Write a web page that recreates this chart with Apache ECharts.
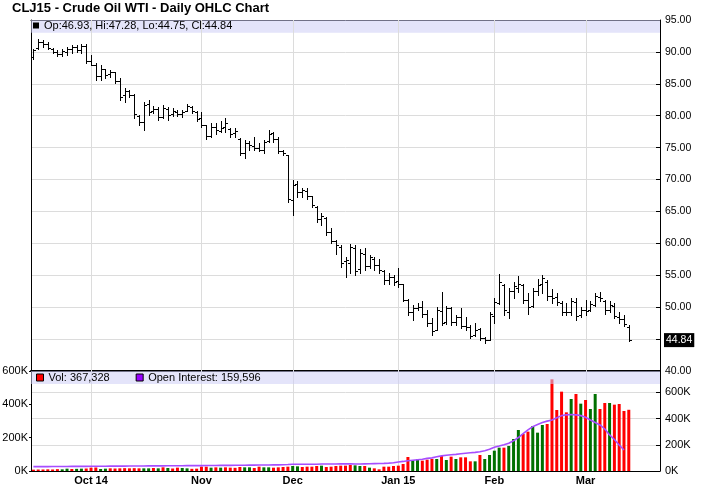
<!DOCTYPE html>
<html>
<head>
<meta charset="utf-8">
<script src="https://cdn.jsdelivr.net/npm/echarts@6.0.0/dist/echarts.min.js"></script>
<style>html,body{margin:0;padding:0;background:#fff}#chart{width:726px;height:499px}</style>
</head>
<body>
<div id="chart"></div>
<script>
// ---- categories: trading days per month ----
const tradingDays = [
  ['2014-09', [15,16,17,18,19,22,23,24,25,26,29,30]],
  ['2014-10', [1,2,3,6,7,8,9,10,13,14,15,16,17,20,21,22,23,24,27,28,29,30,31]],
  ['2014-11', [3,4,5,6,7,10,11,12,13,14,17,18,19,20,21,24,25,26,28]],
  ['2014-12', [1,2,3,4,5,8,9,10,11,12,15,16,17,18,19,22,23,24,26,29,30,31]],
  ['2015-01', [2,5,6,7,8,9,12,13,14,15,16,20,21,22,23,26,27,28,29,30]],
  ['2015-02', [2,3,4,5,6,9,10,11,12,13,17,18,19,20,23,24,25,26,27]],
  ['2015-03', [2,3,4,5,6,9,10,11,12,13]]
];
const monthLabels = {'2014-10':'Oct 14','2014-11':'Nov','2014-12':'Dec','2015-01':'Jan 15','2015-02':'Feb','2015-03':'Mar'};

// ---- OHLC ----
const openP = [89.2,90.6,91.6,91.2,90.5,90.0,89.6,90.0,90.4,90.8,90.3,91.0,
 88.6,88.0,86.2,87.3,86.5,86.8,85.5,83.2,83.8,83.3,80.0,79.0,81.8,80.8,81.0,79.8,81.1,80.2,80.6,80.3,80.8,81.4,80.6,
 79.6,78.5,76.9,78.2,77.6,78.2,77.9,77.3,76.4,74.2,75.7,75.3,75.0,74.6,76.0,77.3,76.4,74.4,73.8,
 66.8,69.3,68.0,68.2,67.4,65.7,63.8,64.0,61.8,60.3,59.5,57.2,57.0,59.2,56.0,58.4,56.5,57.6,56.6,55.6,54.3,54.7,
 54.1,53.6,51.2,49.3,49.9,50.0,49.0,47.5,46.5,49.4,47.6,49.8,47.7,48.4,47.1,46.9,45.6,46.6,45.2,44.9,
 48.6,50.7,53.5,49.3,52.5,53.0,53.5,51.2,50.2,52.6,53.7,54.0,51.8,51.6,50.7,49.3,49.2,50.8,48.7,
 49.5,49.5,50.4,51.6,51.0,49.5,50.2,48.5,48.2,46.93];
const highP = [90.5,92.0,91.9,91.5,90.6,90.3,90.4,90.8,91.1,91.1,91.2,91.3,
 89.5,88.2,87.9,87.4,87.2,86.9,85.9,84.3,84.0,83.4,80.1,82.2,82.5,81.5,81.4,81.7,81.4,81.2,80.9,80.9,81.9,81.5,80.7,
 80.6,78.6,78.8,78.8,79.2,79.6,78.0,78.0,76.5,76.2,76.0,76.7,75.7,76.2,77.8,77.4,76.7,74.6,73.9,
 69.9,69.7,68.6,68.6,67.5,65.8,64.7,64.1,62.4,60.5,59.7,57.9,59.9,59.7,59.1,59.2,58.2,57.8,57.5,55.8,55.3,55.0,
 56.1,53.7,51.3,50.3,50.6,50.9,49.6,48.3,50.0,52.4,50.2,50.0,48.8,49.8,48.5,47.2,47.5,46.8,45.4,49.3,
 51.4,55.2,53.6,53.0,54.0,54.9,53.7,52.2,53.0,54.4,55.05,54.3,52.8,52.3,50.9,50.6,51.4,51.4,50.1,
 51.1,50.9,52.2,52.4,51.1,50.9,50.6,49.3,48.8,47.28];
const lowP = [88.9,90.5,90.8,90.4,89.8,89.3,89.4,89.5,89.9,90.0,89.9,88.2,
 87.9,85.6,85.6,85.9,86.1,85.1,82.5,82.2,83.0,79.6,78.6,77.8,80.1,80.4,79.3,79.6,79.3,79.9,79.9,79.8,80.7,80.4,79.1,
 78.3,76.4,76.7,77.1,77.5,77.5,76.7,76.7,73.9,73.3,74.6,74.6,74.4,74.1,75.9,75.9,74.1,73.8,66.5,
 64.4,67.3,67.3,67.0,65.7,63.4,62.9,61.3,60.0,58.4,56.3,54.8,55.3,55.0,55.3,55.9,56.1,55.9,55.4,53.7,53.7,53.5,
 53.2,50.9,48.8,48.0,49.6,48.5,47.1,45.6,46.4,47.2,47.4,47.2,47.2,46.7,46.4,45.1,45.5,44.9,44.45,44.8,
 47.5,50.5,48.8,48.3,51.4,52.4,50.7,49.0,50.1,51.9,52.2,51.1,50.6,50.4,48.8,48.8,48.8,48.0,48.5,
 48.8,49.4,50.2,50.9,49.0,49.3,48.3,47.5,47.0,44.75];
const closeP = [90.3,91.6,91.2,90.6,90.0,89.6,90.1,90.5,90.8,90.3,91.0,88.5,
 88.0,86.2,87.4,86.4,86.9,85.5,83.0,83.8,83.3,80.2,79.0,81.7,80.6,81.0,79.8,81.2,80.1,80.7,80.3,80.6,81.5,80.7,79.5,
 78.6,76.8,78.3,77.7,78.1,78.8,77.2,77.6,74.2,75.8,75.4,74.9,74.6,75.9,77.2,76.4,74.5,74.1,66.9,
 69.2,68.0,68.3,67.5,66.0,63.8,64.3,61.8,60.3,59.8,57.0,57.4,59.5,55.6,58.5,56.4,57.8,56.6,55.8,54.2,54.8,54.0,
 53.7,51.2,49.3,49.9,50.1,49.0,47.5,46.3,49.6,47.5,49.8,47.6,48.5,47.0,46.9,45.5,46.5,45.2,44.8,49.0,
 50.8,53.9,49.5,52.6,53.3,53.6,51.2,50.0,52.5,53.5,54.5,51.8,51.5,50.8,49.3,49.2,50.9,48.6,49.6,
 49.4,50.5,51.7,51.4,49.5,50.3,48.6,48.1,47.3,44.84];

// ---- volume and open interest ----
const volume = [8000,9000,9000,10000,9000,11000,10000,14000,12000,13000,14000,15000,
 20000,21000,12000,14000,16000,15000,16000,17000,16000,17000,16000,16000,16000,18000,16000,22000,18000,15000,20000,18000,16000,13000,14000,
 26000,26000,20000,22000,20000,22000,20000,19000,24000,22000,22000,18000,26000,22000,22000,20000,22000,24000,26000,
 30000,28000,24000,26000,26000,30000,32000,24000,26000,30000,32000,32000,36000,34000,30000,30000,20000,16000,10000,26000,26000,30000,
 32000,42000,84000,66000,70000,62000,68000,72000,72000,90000,66000,86000,72000,82000,82000,58000,58000,96000,72000,96000,
 122000,140000,140000,150000,192000,246000,222000,236000,270000,230000,276000,282000,550000,366000,476000,352000,432000,462000,404000,
 426000,372000,462000,372000,408000,408000,398000,402000,360000,367328];
// u = up day (green bar), d = down day (red bar)
const upDown = [
  'd','d','d','d','d','d','u','u','d','u','u','d',
  'd','d','u','u','d','d','d','d','d','d','d','u','u','d','u','d','u','d','d','u','u','d','d',
  'd','d','u','d','u','d','d','d','d','u','u','d','d','u','u','d','d','d','d',
  'u','u','d','d','d','d','u','d','d','d','d','d','d','u','u','d','u','d','d','d','d','d',
  'd','d','d','u','u','d','d','d','u','d','u','d','u','d','d','d','u','d','u','u',
  'u','u','d','u','u','u','d','d','u','u','u','d','d','d','d','d','u','d','u',
  'd','u','u','d','d','u','d','d','d','d'
];
const oi = [33000,33000,33000,33000,34000,34000,34000,34000,35000,35000,35000,35000,
 36000,36000,36000,36000,37000,37000,37000,37000,38000,38000,38000,38000,39000,39000,39000,39000,40000,40000,40000,40000,41000,41000,41000,
 41000,42000,42000,42000,43000,43000,43000,44000,44000,44000,45000,45000,46000,46000,46000,47000,47000,48000,49000,
 51000,51000,52000,52000,52000,52000,53000,53000,53000,53000,54000,54000,54000,53000,53000,54000,55000,56000,57000,58000,60000,63000,
 69000,73000,78000,82000,86000,90000,96000,100000,108000,115000,120000,124000,127000,131000,135000,139000,142000,147000,155000,165000,
 181000,190000,200000,211000,230000,255000,285000,313000,338000,355000,369000,380000,389000,405000,422000,428000,430000,428000,422000,
 410000,389000,370000,351000,320000,275000,240000,198000,159596,null];
</script>
<script>
const FONT = '"Liberation Sans", Arial, sans-serif';
const padCount = 6;
const dates = tradingDays.flatMap(([m, ds]) => ds.map(d => m + '-' + String(d).padStart(2, '0')));
const cats = dates.concat(Array.from({length: padCount}, (_, k) => 'pad' + k));
const monthStarts = [];
dates.forEach((d, i) => { if (i > 0 && d.slice(0, 7) !== dates[i - 1].slice(0, 7)) monthStarts.push(i); });
const monthStartSet = new Set(monthStarts);
const n = dates.length;
const last = n - 1;
const lastOI = oi.filter(v => v != null).slice(-1)[0];
const fmtInt = v => Math.round(v).toLocaleString('en-US');

const ohlcData = dates.map((d, i) => [i, openP[i], highP[i], lowP[i], closeP[i]]);

function renderOHLC(params, api) {
  const i = api.value(0);
  const xy = p => api.coord([i, p]);
  const x = Math.round(xy(api.value(2))[0]) + 0.5;
  const yH = Math.round(xy(api.value(2))[1]);
  const yL = Math.round(xy(api.value(3))[1]) + 1;
  const yO = Math.round(xy(api.value(1))[1]) + 0.5;
  const yC = Math.round(xy(api.value(4))[1]) + 0.5;
  const st = {stroke: '#000', lineWidth: 1};
  return {type: 'group', children: [
    {type: 'line', shape: {x1: x, y1: yH, x2: x, y2: yL}, style: st},
    {type: 'line', shape: {x1: x - 2.5, y1: yO, x2: x, y2: yO}, style: st},
    {type: 'line', shape: {x1: x, y1: yC, x2: x + 2.5, y2: yC}, style: st}
  ]};
}
function renderMonthLine(params, api) {
  const x = Math.round(api.coord([api.value(0), api.value(1)])[0]) + 0.5;
  const cs = params.coordSys;
  return {type: 'line', shape: {x1: x, y1: cs.y, x2: x, y2: cs.y + cs.height},
          style: {stroke: '#dcdcdc', lineWidth: 1}};
}

const chart = echarts.init(document.getElementById('chart'), null, {renderer: 'canvas'});
const axisBlack = {show: true, onZero: false, lineStyle: {color: '#000', width: 1}};
chart.setOption({
  animation: false,
  backgroundColor: '#fff',
  textStyle: {fontFamily: FONT},
  title: {
    text: 'CLJ15 - Crude Oil WTI - Daily OHLC Chart', left: 12, top: 2, padding: 0,
    textStyle: {fontSize: 13, fontWeight: 'bold', color: '#000', fontFamily: FONT}
  },
  legend: [
    {
      data: ['OHLC'], left: 33, top: 20, padding: 0, icon: 'rect', itemWidth: 6, itemHeight: 6, itemGap: 4,
      selectedMode: false, z: 10,
      formatter: () => 'Op:' + openP[last].toFixed(2) + ', Hi:' + highP[last].toFixed(2) +
        ', Lo:' + lowP[last].toFixed(2) + ', Cl:' + closeP[last].toFixed(2),
      textStyle: {fontSize: 11, color: '#000', fontFamily: FONT}
    },
    {
      data: ['Vol', 'Open Interest'], left: 36, top: 372, padding: 0, icon: 'rect', itemWidth: 7, itemHeight: 7,
      itemGap: 26, selectedMode: false, z: 10,
      itemStyle: {borderColor: '#000', borderWidth: 1},
      formatter: name => name === 'Vol' ? 'Vol: ' + fmtInt(volume[last]) : 'Open Interest: ' + fmtInt(lastOI),
      textStyle: {fontSize: 11, color: '#000', fontFamily: FONT}
    }
  ],
  grid: [
    {left: 31, top: 20, width: 629, height: 351, show: false, containLabel: false, outerBoundsMode: 'none'},
    {left: 31, top: 371, width: 629, height: 100, show: false, containLabel: false, outerBoundsMode: 'none'}
  ],
  xAxis: [
    {type: 'category', gridIndex: 0, data: cats, boundaryGap: true,
     axisLine: {show: true, onZero: false, lineStyle: {color: '#000', width: 2}},
     axisTick: {show: false}, axisLabel: {show: false}, splitLine: {show: false}},
    {type: 'category', gridIndex: 0, position: 'top', data: cats, boundaryGap: true,
     axisLine: axisBlack, axisTick: {show: false}, axisLabel: {show: false}, splitLine: {show: false}},
    {type: 'category', gridIndex: 1, data: cats, boundaryGap: true,
     axisLine: axisBlack, axisTick: {show: false}, splitLine: {show: false},
     axisLabel: {
       interval: (idx) => monthStartSet.has(idx),
       formatter: (v) => monthLabels[v.slice(0, 7)] || '',
       fontWeight: 'bold', fontSize: 11, color: '#000', margin: 4, fontFamily: FONT,
       hideOverlap: false
     }}
  ],
  yAxis: [
    {type: 'value', gridIndex: 0, position: 'right', min: 40, max: 95, interval: 5,
     axisLine: axisBlack,
     axisTick: {show: true, inside: true, length: 4, lineStyle: {color: '#000'}},
     axisLabel: {formatter: v => v.toFixed(2), color: '#000', fontSize: 10.5, margin: 5, fontFamily: FONT,
                 showMinLabel: true, showMaxLabel: true},
     splitLine: {show: true, lineStyle: {color: '#dcdcdc', width: 1}}},
    {type: 'value', gridIndex: 0, position: 'left', min: 40, max: 95, interval: 5,
     axisLine: axisBlack, axisTick: {show: false}, axisLabel: {show: false}, splitLine: {show: false}},
    {type: 'value', gridIndex: 1, position: 'left', min: 0, max: 600000, interval: 200000,
     axisLine: axisBlack,
     axisTick: {show: true, inside: false, length: 2, lineStyle: {color: '#000'}},
     axisLabel: {formatter: v => (v / 1000) + 'K', color: '#000', fontSize: 11, margin: 3, fontFamily: FONT,
                 showMinLabel: true, showMaxLabel: true},
     splitLine: {show: false}},
    {type: 'value', gridIndex: 1, position: 'right', min: 0, max: 762000, interval: 200000,
     axisLine: axisBlack,
     axisTick: {show: true, inside: true, length: 4, lineStyle: {color: '#000'}},
     axisLabel: {formatter: v => (v % 200000 === 0 ? (v / 1000) + 'K' : ''), color: '#000', fontSize: 11,
                 margin: 5, fontFamily: FONT, showMinLabel: true},
     splitLine: {show: true, lineStyle: {color: '#dcdcdc', width: 1}}}
  ],
  series: [
    {type: 'custom', name: 'monthGrid0', xAxisIndex: 0, yAxisIndex: 0, silent: true, z: 1,
     renderItem: renderMonthLine, data: monthStarts.map(i => [i, 40]), encode: {x: 0, y: 1}},
    {type: 'custom', name: 'monthGrid1', xAxisIndex: 2, yAxisIndex: 2, silent: true, z: 1,
     renderItem: renderMonthLine, data: monthStarts.map(i => [i, 0]), encode: {x: 0, y: 1}},
    {type: 'custom', name: 'OHLC', xAxisIndex: 0, yAxisIndex: 0, z: 3,
     itemStyle: {color: '#000'},
     renderItem: renderOHLC, data: ohlcData, encode: {x: 0, y: [1, 2, 3, 4]},
     markArea: {silent: true, z: 1, itemStyle: {color: 'rgba(205,205,245,0.55)'},
                data: [[{yAxis: 93}, {yAxis: 95}]]}},
    {type: 'line', name: 'lastClose', xAxisIndex: 0, yAxisIndex: 0, z: 6, silent: true,
     data: ohlcData.map(r => [r[0], r[4]]), showSymbol: false, symbol: 'none',
     lineStyle: {width: 0, color: 'rgba(0,0,0,0)'},
     markLine: {silent: true, symbol: 'none', animation: false, z: 6,
                lineStyle: {width: 0, color: 'rgba(0,0,0,0)', type: 'solid'},
                label: {show: true, position: 'end', distance: 4, formatter: closeP[last].toFixed(2),
                        color: '#fff', backgroundColor: '#000', padding: [2, 2, 1, 2], fontSize: 10.5,
                        fontFamily: FONT},
                emphasis: {disabled: true},
                data: [{yAxis: closeP[last]}]}},
    {type: 'bar', name: 'Vol', xAxisIndex: 2, yAxisIndex: 2, barWidth: 3, z: 2,
     itemStyle: {color: '#ff0000'},
     data: volume.map((v, i) => ({value: v, itemStyle: {color: upDown[i] === 'u' ? '#007000' : '#ff0000'}})),
     markArea: {silent: true, z: 5, itemStyle: {color: 'rgba(205,205,245,0.55)'},
                data: [[{yAxis: 522000}, {yAxis: 600000}]]}},
    {type: 'line', name: 'Open Interest', xAxisIndex: 2, yAxisIndex: 3, z: 4,
     showSymbol: false, symbol: 'none', connectNulls: false,
     itemStyle: {color: '#9900ff'}, lineStyle: {color: '#a64dff', width: 1.6},
     data: oi}
  ]
});
</script>
</body>
</html>
